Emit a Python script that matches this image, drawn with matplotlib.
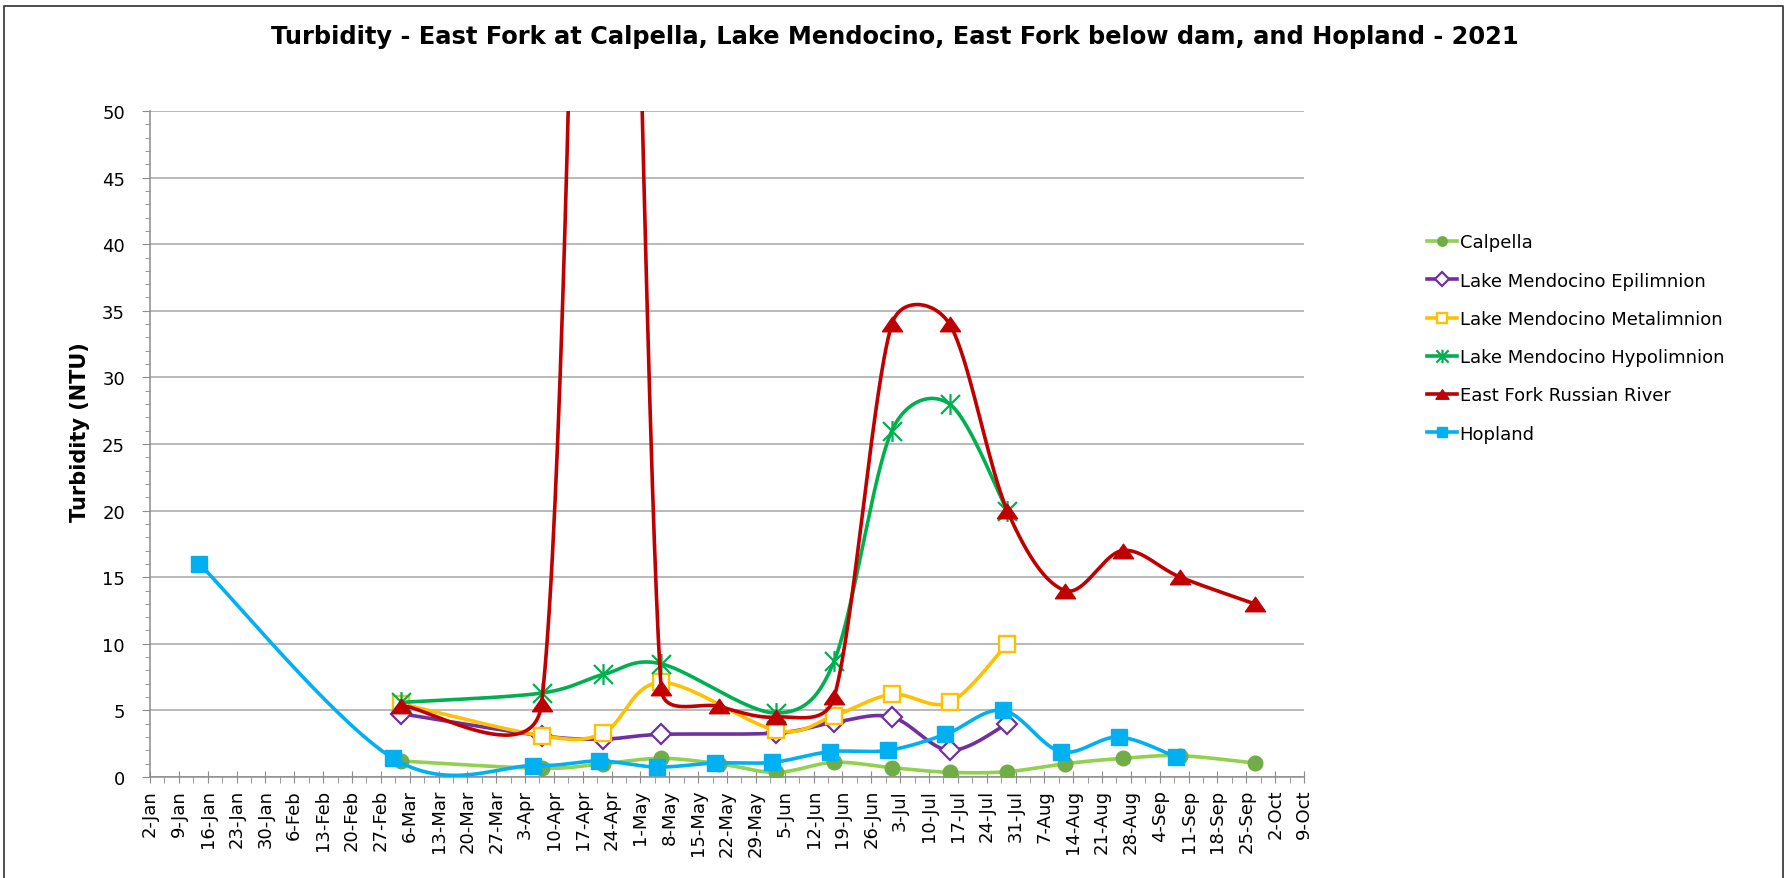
import numpy as np                                        # libreria para operaciones con arreglos
import pandas as pd                                       # libreria para manejo de fechas
import matplotlib
matplotlib.use('Agg')
import matplotlib.pyplot as plt                           # libreria para graficar
import matplotlib.dates as mdates                         # conversion de fechas a numeros
from matplotlib.path import Path                          # para marcadores personalizados
from matplotlib.lines import Line2D                       # para la leyenda y el marco

# fechas de muestreo 2021 y turbidez (NTU) de cada sitio
fechas_calpella = ['2021-03-04', '2021-04-07', '2021-04-22', '2021-05-06', '2021-05-20', '2021-06-03', '2021-06-17',
                   '2021-07-01', '2021-07-15', '2021-07-29', '2021-08-12', '2021-08-26', '2021-09-09', '2021-09-27']
turbidez_calpella = [1.2, 0.65, 1.0, 1.4, 1.0, 0.35, 1.1, 0.7, 0.35, 0.4, 1.0, 1.4, 1.6, 1.05]

fechas_lago = ['2021-03-04', '2021-04-07', '2021-04-22', '2021-05-06', '2021-06-03', '2021-06-17',
               '2021-07-01', '2021-07-15', '2021-07-29']
turbidez_epilimnion = [4.75, 3.1, 2.85, 3.2, 3.3, 4.1, 4.5, 2.0, 4.0]
turbidez_metalimnion = [5.5, 3.1, 3.3, 7.1, 3.5, 4.6, 6.2, 5.6, 10.0]
turbidez_hipolimnion = [5.6, 6.3, 7.7, 8.5, 4.8, 8.7, 26.0, 28.0, 20.0]

fechas_east_fork = ['2021-03-04', '2021-04-07', '2021-04-22', '2021-05-06', '2021-05-20', '2021-06-03', '2021-06-17',
                    '2021-07-01', '2021-07-15', '2021-07-29', '2021-08-12', '2021-08-26', '2021-09-09', '2021-09-27']
turbidez_east_fork = [5.35, 5.5, 138.0, 6.7, 5.3, 4.5, 6.0, 34.0, 34.0, 20.0, 14.0, 17.0, 15.0, 13.0]

fechas_hopland = ['2021-01-14', '2021-03-02', '2021-04-05', '2021-04-21', '2021-05-05', '2021-05-19', '2021-06-02',
                  '2021-06-16', '2021-06-30', '2021-07-14', '2021-07-28', '2021-08-11', '2021-08-25', '2021-09-08']
turbidez_hopland = [16.0, 1.4, 0.85, 1.2, 0.75, 1.05, 1.1, 1.9, 2.0, 3.2, 5.0, 1.9, 3.0, 1.5]

# marcadores personalizados: asterisco (X con linea vertical) y triangulo ancho
asterisco = Path([(-1, -1), (1, 1), (-1, 1), (1, -1), (0, -1.1), (0, 1.1)],
                 [Path.MOVETO, Path.LINETO, Path.MOVETO, Path.LINETO, Path.MOVETO, Path.LINETO])
triangulo = Path([(0, 0.72), (-1, -0.72), (1, -0.72), (0, 0.72)],
                 [Path.MOVETO, Path.LINETO, Path.LINETO, Path.CLOSEPOLY])

# nombre, fechas, valores, color de linea, estilo de marcador
series = [
    ('Calpella', fechas_calpella, turbidez_calpella, '#92D050',
     dict(marker='o', ms=10.5, mfc='#70AD47', mec='#70AD47')),
    ('Lake Mendocino Epilimnion', fechas_lago, turbidez_epilimnion, '#7030A0',
     dict(marker='D', ms=10.5, mfc='white', mec='#7030A0', mew=1.6)),
    ('Lake Mendocino Metalimnion', fechas_lago, turbidez_metalimnion, '#FFC000',
     dict(marker='s', ms=12, mfc='white', mec='#FFC000', mew=1.7)),
    ('Lake Mendocino Hypolimnion', fechas_lago, turbidez_hipolimnion, '#00B050',
     dict(marker=asterisco, ms=15, mfc='none', mec='#00B050', mew=1.6)),
    ('East Fork Russian River', fechas_east_fork, turbidez_east_fork, '#C00000',
     dict(marker=triangulo, ms=14.5, mfc='#C00000', mec='#C00000')),
    ('Hopland', fechas_hopland, turbidez_hopland, '#00B0F0',
     dict(marker='s', ms=12, mfc='#00B0F0', mec='#00B0F0')),
]


def curva_suavizada(ax, x, y, pasos=60):
    # curva de Bezier tipo "linea suavizada" de Excel, calculada en pixeles
    puntos = ax.transData.transform(np.column_stack([x, y]))
    n = len(puntos)
    t = np.linspace(0, 1, pasos + 1)[1:, None]
    curva = [puntos[:1]]
    for i in range(n - 1):
        p0 = puntos[max(i - 1, 0)]
        p1 = puntos[i]
        p2 = puntos[i + 1]
        p3 = puntos[min(i + 2, n - 1)]
        mitad = np.hypot(*(p2 - p1)) / 2
        v1 = (p2 - p0) / 6
        v2 = (p3 - p1) / 6
        if np.hypot(*v1) > mitad:
            v1 = v1 * mitad / np.hypot(*v1)  # limitar el punto de control
        if np.hypot(*v2) > mitad:
            v2 = v2 * mitad / np.hypot(*v2)
        c1 = p1 + v1
        c2 = p2 - v2
        tramo = (1 - t) ** 3 * p1 + 3 * (1 - t) ** 2 * t * c1 + 3 * (1 - t) * t ** 2 * c2 + t ** 3 * p2
        curva.append(tramo)
    curva = ax.transData.inverted().transform(np.vstack(curva))
    return curva[:, 0], curva[:, 1]


def graficar():
    fig = plt.figure(figsize=(17.91, 8.79), dpi=100)
    ax = fig.add_axes([150 / 1791, 1 - 778 / 879, (1304 - 150) / 1791, (778 - 112) / 879])

    inicio = mdates.date2num(pd.Timestamp('2021-01-02'))
    fin = mdates.date2num(pd.Timestamp('2021-10-09'))
    ax.set_xlim(inicio, fin)
    ax.set_ylim(0, 50)

    # ejes y cuadricula
    semanas = pd.date_range('2021-01-02', '2021-10-09', freq='7D')
    ax.set_xticks(mdates.date2num(semanas))
    ax.set_xticklabels([f"{d.day}-{d.strftime('%b')}" for d in semanas], rotation=90, fontsize=13)
    ax.set_xticks(mdates.date2num(semanas[:-1]) + 3.5, minor=True)
    ax.set_yticks(np.arange(0, 51, 5))
    ax.set_yticks(np.arange(0, 51, 1), minor=True)
    ax.tick_params(axis='y', which='major', labelsize=13, length=6, color='#8c8c8c', pad=12)
    ax.tick_params(axis='y', which='minor', length=3.5, color='#8c8c8c')
    ax.tick_params(axis='x', which='major', direction='inout', length=9, color='#8c8c8c', pad=4)
    ax.tick_params(axis='x', which='minor', direction='out', length=4, color='#8c8c8c')
    ax.grid(axis='y', color='#a6a6a6', linewidth=1.1)
    ax.set_axisbelow(True)
    for lado in ['top', 'right']:
        ax.spines[lado].set_visible(False)
    for lado in ['left', 'bottom']:
        ax.spines[lado].set_color('#8c8c8c')
        ax.spines[lado].set_linewidth(1.1)

    # series con linea suavizada y marcadores
    manijas = []
    for k, (nombre, fechas, valores, color, estilo) in enumerate(series):
        x = mdates.date2num(pd.to_datetime(fechas))
        xs, ys = curva_suavizada(ax, x, valores)
        ax.plot(xs, ys, color=color, lw=2.6, zorder=3 + k, solid_capstyle='round')
        ax.plot(x, valores, linestyle='none', zorder=3 + k + 0.5, **estilo)
        leyenda = dict(estilo)
        leyenda['ms'] = estilo['ms'] * 0.65
        manijas.append(Line2D([], [], color=color, lw=2.6, label=nombre, **leyenda))

    fig.legend(handles=manijas, loc='center left', bbox_to_anchor=(1418 / 1791, 1 - 339 / 879),
               frameon=False, fontsize=13, borderpad=0, handlelength=1.65, handletextpad=0.15,
               labelspacing=1.12)

    # titulos
    fig.text(895 / 1791, 1 - 37 / 879,
             'Turbidity - East Fork at Calpella, Lake Mendocino, East Fork below dam, and Hopland - 2021',
             ha='center', va='center', fontsize=17.4, fontweight='bold')
    fig.text(80 / 1791, 1 - 432 / 879, 'Turbidity (NTU)', rotation=90, ha='center', va='center',
             fontsize=15, fontweight='bold')

    # marco del grafico
    marco = Line2D([4 / 1791, 4 / 1791, 1783 / 1791, 1783 / 1791], [0, 1 - 7 / 879, 1 - 7 / 879, 0],
                   transform=fig.transFigure, color='#404040', lw=1.3)
    fig.add_artist(marco)

    fig.savefig('out.png', dpi=100)


if __name__ == "__main__":
    graficar()
